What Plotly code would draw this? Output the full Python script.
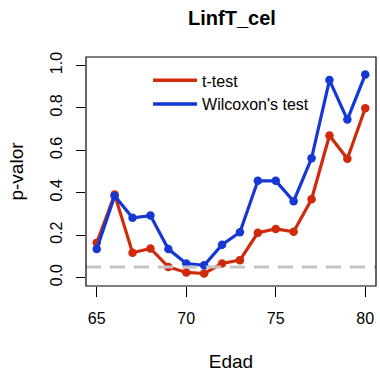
import plotly.graph_objects as go

# edades y p-valores
edad = list(range(65, 81))
p_ttest = [0.164, 0.391, 0.117, 0.137, 0.050, 0.024, 0.019, 0.066,
           0.082, 0.211, 0.229, 0.216, 0.369, 0.670, 0.560, 0.798]
p_wilcox = [0.134, 0.385, 0.282, 0.292, 0.134, 0.066, 0.058, 0.155,
            0.213, 0.456, 0.456, 0.360, 0.562, 0.931, 0.745, 0.957]
alpha = 0.05
series = [('t-test', p_ttest, '#D02A0A'), ("Wilcoxon's test", p_wilcox, '#1538D4')]

fig = go.Figure()
for name, vals, col in series:
    fig.add_trace(go.Scatter(x=edad, y=vals, mode='lines+markers', name=name, showlegend=False,
                             line=dict(color=col, width=3.2), marker=dict(color=col, size=8.5)))
# entradas de leyenda solo con linea (como en R)
for name, vals, col in series:
    fig.add_trace(go.Scatter(x=[None], y=[None], mode='lines', name=name,
                             line=dict(color=col, width=3.5)))

# linea de significacion
fig.add_shape(type='line', xref='paper', x0=0, x1=1, yref='y', y0=alpha, y1=alpha,
              line=dict(color='#C4C4C4', width=3, dash='15px,9px'), layer='above')
# caja del grafico
fig.add_shape(type='rect', xref='paper', yref='paper', x0=0, x1=1, y0=0, y1=1,
              line=dict(color='black', width=1.2))

fig.update_layout(
    width=380, height=375,
    margin=dict(l=86, r=4, t=57, b=89),
    paper_bgcolor='white', plot_bgcolor='white',
    font=dict(family='Liberation Sans, Arial, sans-serif', size=16, color='black'),
    title=dict(text='<b>LinfT_cel</b>', x=232 / 380, xanchor='center',
               y=1 - 18 / 375, yanchor='middle', font=dict(size=20)),
    showlegend=True,
    legend=dict(x=0.214, y=0.972, xanchor='left', yanchor='top', bgcolor='rgba(0,0,0,0)',
                font=dict(size=16), tracegroupgap=0, itemwidth=44),
    xaxis=dict(range=[64.4, 80.6], tickvals=[65, 70, 75, 80], showgrid=False, zeroline=False,
               ticks='outside', ticklen=10, tickwidth=1.2, tickcolor='black', showline=False,
               ticklabelstandoff=8,
               title=dict(text='Edad', standoff=28), tickfont=dict(size=16)),
    yaxis=dict(range=[-0.04, 1.04], tickvals=[0, 0.2, 0.4, 0.6, 0.8, 1.0],
               ticktext=['0.0', '0.2', '0.4', '0.6', '0.8', '1.0'], tickangle=-90,
               showgrid=False, zeroline=False, ticks='outside', ticklen=9, tickwidth=1.2,
               tickcolor='black', showline=False, ticklabelstandoff=8,
               title=dict(text='p-valor', standoff=18), tickfont=dict(size=16)),
)

fig.write_html('out.html', config={'displayModeBar': False},
               post_script="document.body.style.margin='0';")
